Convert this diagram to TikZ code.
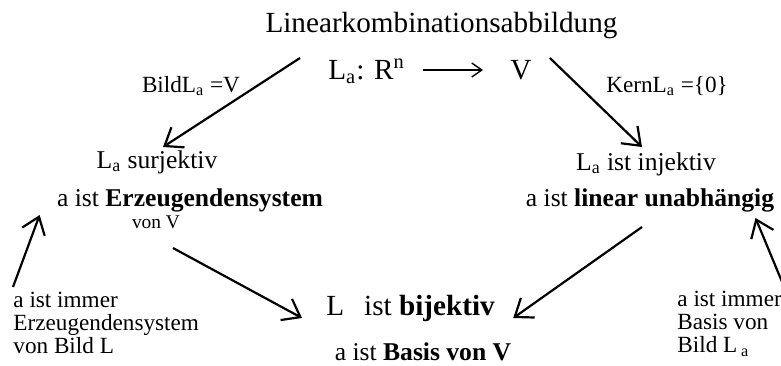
\documentclass[tikz,border=0pt]{standalone}
\usepackage{fontspec}
\setmainfont{Liberation Serif}
\usepackage{tikz}
\usetikzlibrary{arrows.meta,positioning,calc}
\newcommand\titlesize{\fontsize{14.6pt}{17pt}\selectfont}
\newcommand\mainsize{\fontsize{12.8pt}{15pt}\selectfont}
\newcommand\labelsize{\fontsize{11.6pt}{11.5pt}\selectfont}
\newcommand\vonsize{\fontsize{9.7pt}{11pt}\selectfont}

\begin{document}
\begin{tikzpicture}[x=0.5pt,y=-0.5pt,>={Straight Barb[length=8pt,width=12pt]}]
\tikzstyle{txt}=[inner sep=0pt,anchor=base]
\tikzstyle{arr}=[->,line width=1.1pt]
\useasboundingbox (0,0) rectangle (781,365);
% top: the map
\node[txt,font=\titlesize] (titel) at (441.5,32) {Linearkombinationsabbildung};
\node[txt,anchor=base west,font=\titlesize] (la) at (328,79) {L\textsubscript{a}: R\textsuperscript{n}};
\node[txt,anchor=base west,font=\titlesize] (v) at (510,79) {V};
\node[txt,font=\labelsize] (bild) at (191,92) {BildL\textsubscript{a} =V};
\node[txt,font=\labelsize] (kern) at (667,92) {KernL\textsubscript{a} =\{0\}};
% left and right
\node[txt,font=\mainsize] (surj) at (157,168) {L\textsubscript{a} surjektiv};
\node[txt,font=\mainsize] (erz) at (190,206) {a ist \textbf{Erzeugendensystem}};
\node[txt,font=\vonsize] (vonv) at (156,228) {von V};
\node[txt,font=\mainsize] (inj) at (646,170) {L\textsubscript{a} ist injektiv};
\node[txt,font=\mainsize] (unab) at (650,206) {a ist \textbf{linear unabhängig}};
% bottom
\node[txt,anchor=base west,font=\titlesize] (bij) at (326,315) {L\hspace{10pt}ist \textbf{bijektiv}};
\node[txt,font=\mainsize] (basis) at (423,360) {a ist \textbf{Basis von V}};
\node[txt,anchor=north west,align=left,font=\labelsize] (immerl) at (13,292)
  {a ist immer\\Erzeugendensystem\\von Bild L};
\node[txt,anchor=north west,align=left,font=\labelsize] (immerr) at (677,291)
  {a ist immer\\Basis von\\Bild L\,\textsubscript{a}};
% arrows
\draw[->,line width=0.7pt,>={Straight Barb[length=5pt,width=7pt]}]
  ($(la.base east)+(18,-9)$) -- ($(v.base west)+(-27,-9)$);
\draw[arr] ($(la.base west)+(-28,-21)$) -- ($(surj.base)+(6,-21)$);
\draw[arr] ($(v.base east)+(18,-21)$) -- ($(inj.base)+(-4,-23)$);
\draw[arr] ($(vonv.base)+(17,20)$) -- ($(bij.base west)+(-24,3)$);
\draw[arr] ($(unab.base)+(-8,21)$) -- ($(bij.base east)+(18,3)$);
\draw[arr] ($(immerl.north west)+(0,-5)$) -- ($(erz.base west)+(-17,9)$);
\draw[arr] ($(immerr.north east)+(2,-4)$) -- ($(unab.base east)+(-19,12)$);
\end{tikzpicture}
\end{document}
